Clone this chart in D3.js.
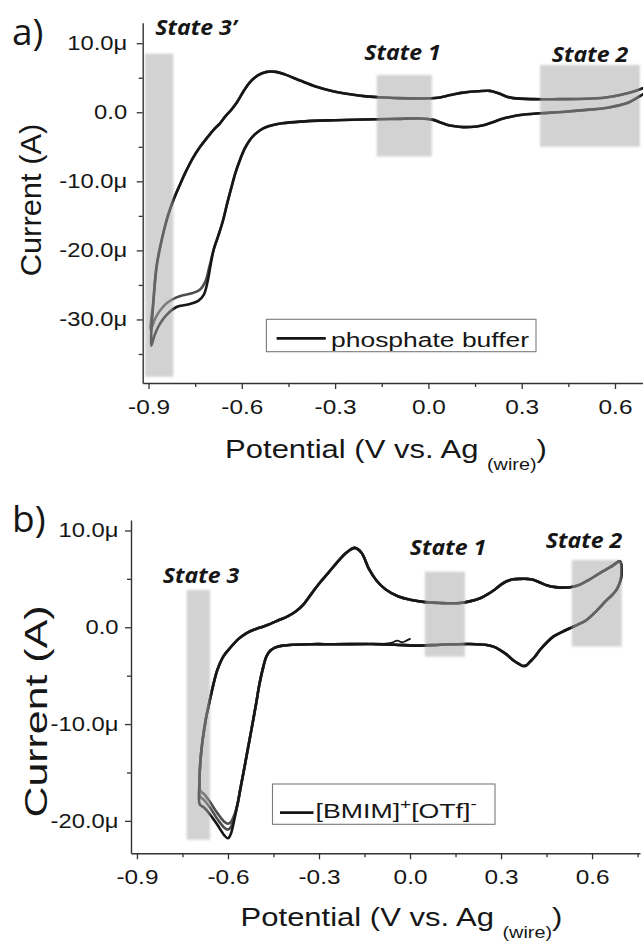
<!DOCTYPE html>
<html>
<head>
<meta charset="utf-8">
<script src="https://cdn.jsdelivr.net/npm/d3@7"></script>
<style>
  body { margin: 0; background: #fff; }
  svg { display: block; }
</style>
</head>
<body>
<svg id="chart" width="643" height="941"></svg>
<script>
// ---------------------------------------------------------------
// Cyclic voltammograms, potential in V vs. Ag wire, current in µA
// ---------------------------------------------------------------

// Axis ticks
const potentialTicks = [-0.9, -0.6, -0.3, 0.0, 0.3, 0.6];
const potentialTickLabels = ["-0.9", "-0.6", "-0.3", "0.0", "0.3", "0.6"];
const potentialMinorTicks = [-0.75, -0.45, -0.15, 0.15, 0.45, 0.75];
const currentTicksA = [10, 0, -10, -20, -30];
const currentTickLabelsA = ["10.0μ", "0.0", "-10.0μ", "-20.0μ", "-30.0μ"];
const currentMinorTicksA = [5, -5, -15, -25, -35];
const currentTicksB = [10, 0, -10, -20];
const currentTickLabelsB = ["10.0μ", "0.0", "-10.0μ", "-20.0μ"];
const currentMinorTicksB = [5, -5, -15];

// (a) phosphate buffer: sweep from the positive vertex down to the negative one
const bufferReduction = [
  [0.705, 3.0], [0.69, 2.6], [0.66, 1.8], [0.637, 1.3], [0.58, 0.7], [0.509, 0.35],
  [0.43, 0.05], [0.359, -0.15], [0.295, -0.4], [0.265, -0.65], [0.241, -0.9],
  [0.209, -1.4], [0.18, -1.85], [0.155, -2.05], [0.112, -2.15], [0.08, -2.0],
  [0.059, -1.8], [0.035, -1.4], [0.016, -1.1], [-0.027, -0.9], [-0.1, -0.95],
  [-0.166, -1.0], [-0.3, -1.15], [-0.413, -1.35], [-0.47, -1.6], [-0.499, -1.85],
  [-0.525, -2.2], [-0.541, -2.6], [-0.558, -3.2], [-0.574, -4.0], [-0.59, -5.2],
  [-0.606, -6.9], [-0.62, -8.7], [-0.633, -10.8], [-0.647, -13.2], [-0.66, -15.6],
  [-0.675, -17.8], [-0.69, -19.8]
];
// (a) the two cycles part near the negative vertex
const bufferVertexCycle1 = [
  [-0.705, -22.5], [-0.718, -24.6], [-0.735, -25.7], [-0.76, -26.2], [-0.79, -26.5],
  [-0.81, -26.8], [-0.841, -27.6], [-0.863, -28.7], [-0.878, -29.8], [-0.893, -31.5]
];
const bufferVertexCycle2 = [
  [-0.70, -22.0], [-0.71, -24.5], [-0.722, -26.4], [-0.74, -27.3], [-0.77, -27.8],
  [-0.81, -28.2], [-0.841, -29.3], [-0.863, -30.6], [-0.88, -32.2], [-0.891, -33.8]
];
// (a) return sweep from the negative vertex up to the positive one
const bufferOxidation = [
  [-0.884, -27.2], [-0.874, -22.3], [-0.863, -19.6], [-0.852, -17.4], [-0.837, -14.9],
  [-0.82, -12.7], [-0.80, -10.6], [-0.78, -8.6], [-0.757, -6.6], [-0.734, -5.0],
  [-0.71, -3.6], [-0.69, -2.5], [-0.67, -1.6], [-0.653, -0.6], [-0.635, 0.3],
  [-0.615, 1.5], [-0.595, 3.0], [-0.575, 4.3], [-0.55, 5.3], [-0.52, 5.85],
  [-0.49, 5.85], [-0.46, 5.45], [-0.413, 4.6], [-0.36, 3.7], [-0.307, 3.05],
  [-0.252, 2.6], [-0.2, 2.3], [-0.166, 2.2], [-0.1, 2.05], [-0.027, 2.0],
  [0.03, 2.1], [0.07, 2.5], [0.112, 2.85], [0.16, 3.05], [0.198, 3.1],
  [0.225, 2.75], [0.25, 2.3], [0.273, 2.05], [0.337, 1.9], [0.42, 1.9],
  [0.509, 1.95], [0.57, 2.15], [0.616, 2.5], [0.66, 3.0], [0.69, 3.5], [0.712, 4.1]
];

// (b) [BMIM]+[OTf]-: open-circuit start of the first scan
const ilStart = [[0.0, -1.2], [-0.012, -1.38], [-0.026, -1.55], [-0.042, -1.38], [-0.062, -1.62], [-0.09, -1.72], [-0.135, -1.73]];
// (b) cathodic sweep towards the negative vertex
const ilReduction = [
  [-0.135, -1.73], [-0.25, -1.75], [-0.324, -1.75], [-0.38, -1.8], [-0.42, -1.9],
  [-0.445, -2.1], [-0.46, -2.4], [-0.473, -3.0], [-0.486, -4.4], [-0.497, -6.0],
  [-0.507, -7.85], [-0.517, -9.6], [-0.527, -11.3], [-0.537, -13.0], [-0.547, -14.7],
  [-0.558, -16.5], [-0.568, -18.2]
];
// (b) reduction peak and vertex of the three cycles
const ilTroughCycle1 = [[-0.578, -19.3], [-0.59, -20.1], [-0.60, -20.3], [-0.612, -20.1], [-0.635, -19.2], [-0.66, -18.0], [-0.68, -17.2], [-0.691, -16.9]];
const ilTroughCycle2 = [[-0.579, -19.6], [-0.59, -20.6], [-0.60, -20.9], [-0.612, -20.7], [-0.635, -19.8], [-0.66, -18.6], [-0.68, -17.8], [-0.692, -17.5]];
const ilTroughCycle3 = [[-0.58, -20.0], [-0.59, -21.3], [-0.60, -21.8], [-0.612, -21.5], [-0.635, -20.4], [-0.66, -19.3], [-0.68, -18.6], [-0.693, -18.3]];
// (b) anodic sweep up to the positive vertex
const ilOxidation = [
  [-0.694, -16.0], [-0.69, -13.5], [-0.682, -11.3], [-0.673, -9.5], [-0.662, -7.85],
  [-0.648, -5.9], [-0.635, -4.4], [-0.615, -3.0], [-0.594, -2.17], [-0.565, -1.2],
  [-0.54, -0.62], [-0.51, -0.2], [-0.486, 0.06], [-0.46, 0.35], [-0.432, 0.75],
  [-0.405, 1.1], [-0.378, 1.6], [-0.35, 2.4], [-0.324, 3.5], [-0.3, 4.5],
  [-0.27, 5.6], [-0.243, 6.6], [-0.21, 7.7], [-0.182, 8.2], [-0.16, 7.7],
  [-0.135, 6.0], [-0.11, 4.8], [-0.08, 3.9], [-0.04, 3.2], [0.0, 2.85],
  [0.05, 2.6], [0.1, 2.5], [0.165, 2.5], [0.2, 2.7], [0.231, 3.0], [0.255, 3.4],
  [0.275, 3.8], [0.3, 4.4], [0.319, 4.75], [0.34, 4.95], [0.363, 5.0], [0.385, 5.0],
  [0.406, 4.9], [0.43, 4.6], [0.45, 4.35], [0.48, 4.15], [0.516, 4.1], [0.54, 4.2],
  [0.56, 4.4], [0.59, 4.9], [0.626, 5.6], [0.66, 6.2], [0.692, 6.8]
];
// (b) cathodic sweep back from the positive vertex
const ilReturn = [
  [0.697, 6.2], [0.695, 5.0], [0.683, 4.0], [0.665, 3.3], [0.648, 2.8], [0.615, 1.7],
  [0.582, 0.75], [0.555, 0.3], [0.527, -0.1], [0.5, -0.5], [0.472, -0.97], [0.45, -1.6],
  [0.428, -2.35], [0.41, -3.1], [0.396, -3.55], [0.383, -3.95], [0.372, -4.0],
  [0.36, -3.8], [0.34, -3.4], [0.318, -2.8], [0.297, -2.35], [0.275, -2.0],
  [0.253, -1.83], [0.198, -1.73], [0.1, -1.8], [0.033, -1.9], [-0.05, -1.8], [-0.13, -1.73]
];

// Highlighted potential windows (V) and their current span (µA)
const stateNamesA = ["State 3’", "State 1", "State 2"];
const stateFromA = [-0.911, -0.166, 0.359];
const stateToA = [-0.82, 0.011, 0.68];
const stateHighA = [8.5, 5.4, 6.85];
const stateLowA = [-38.3, -6.4, -5.0];

const stateNamesB = ["State 3", "State 1", "State 2"];
const stateFromB = [-0.736, 0.049, 0.533];
const stateToB = [-0.659, 0.181, 0.698];
const stateHighB = [3.85, 5.74, 6.95];
const stateLowB = [-21.95, -3.04, -2.0];

// ---------------------------------------------------------------
const svg = d3.select("#chart");
const SANS = '"Liberation Sans", Arial, sans-serif';
const LABEL = '"Open Sans", "Noto Sans", sans-serif';
const INK = "#161616";
const AXIS = "#333";

const defs = svg.append("defs");
defs.append("filter").attr("id", "soft").attr("x", "-20%").attr("y", "-20%").attr("width", "140%").attr("height", "140%")
  .append("feGaussianBlur").attr("stdDeviation", 1.1);

// horizontal text, stretched sideways like the rest of the figure
function wideText(g, str, x, y, size, sx, anchor, opts = {}) {
  return g.append("text")
    .attr("transform", `translate(${x},${y}) scale(${sx},1)`)
    .attr("text-anchor", anchor)
    .attr("font-family", opts.family || SANS)
    .attr("font-size", size)
    .attr("font-weight", opts.weight || 400)
    .attr("font-style", opts.style || "normal")
    .attr("fill", INK)
    .text(str);
}

function drawPanel(cfg) {
  const g = svg.append("g");
  const x = d3.scaleLinear().domain(cfg.xDomain).range(cfg.xRange);
  const y = d3.scaleLinear().domain(cfg.yDomain).range(cfg.yRange);
  const left = cfg.xRange[0], bottom = cfg.yRange[0];

  // voltammogram cycles
  const line = d3.line().x(d => x(d[0])).y(d => y(d[1])).curve(d3.curveCatmullRom.alpha(0.5));
  cfg.cycles.forEach((c, i) => {
    g.append("path").datum(c)
      .attr("d", line)
      .attr("fill", "none")
      .attr("stroke", cfg.cycleColors[i])
      .attr("stroke-width", cfg.cycleWidths ? cfg.cycleWidths[i] : 2.6)
      .attr("stroke-linejoin", "round")
      .attr("stroke-linecap", "round");
  });

  // translucent windows drawn over the curves
  cfg.states.from.forEach((v0, i) => {
    g.append("rect")
      .attr("x", x(v0)).attr("width", x(cfg.states.to[i]) - x(v0))
      .attr("y", y(cfg.states.high[i])).attr("height", y(cfg.states.low[i]) - y(cfg.states.high[i]))
      .attr("fill", "#a9a9a9").attr("fill-opacity", 0.52)
      .attr("filter", "url(#soft)");
  });
  cfg.states.names.forEach((n, i) => {
    const p = cfg.stateLabelAt[i];
    wideText(g, n, p[0], p[1], 22, 1.05, "middle", { family: LABEL, weight: 700, style: "italic" });
  });

  // axes
  const styleAxis = a => {
    a.selectAll("path.domain").attr("stroke", AXIS).attr("stroke-width", 1.4);
    a.selectAll(".tick line").attr("stroke", AXIS).attr("stroke-width", 1.3);
    a.selectAll("text").attr("font-family", SANS).attr("font-size", 19.5).attr("fill", INK);
  };
  const yLabelFor = new Map(cfg.yTicks.map((t, i) => [t, cfg.yTickLabels[i]]));
  const xLabelFor = new Map(potentialTicks.map((t, i) => [t, potentialTickLabels[i]]));

  const yAxis = g.append("g").attr("transform", `translate(${left},0)`)
    .call(d3.axisLeft(y).tickValues(cfg.yTicks).tickFormat(t => yLabelFor.get(t))
      .tickSize(6).tickSizeOuter(0).tickPadding(cfg.yPad));
  styleAxis(yAxis);
  yAxis.selectAll("text")
    .style("transform-box", "fill-box").style("transform-origin", "right center")
    .style("transform", "scaleX(1.22)");
  const yMinor = g.append("g").attr("transform", `translate(${left},0)`)
    .call(d3.axisLeft(y).tickValues(cfg.yMinor).tickFormat("").tickSize(4).tickSizeOuter(0));
  yMinor.select("path.domain").remove();
  styleAxis(yMinor);

  const xAxis = g.append("g").attr("transform", `translate(0,${bottom})`)
    .call(d3.axisBottom(x).tickValues(potentialTicks).tickFormat(t => xLabelFor.get(t))
      .tickSize(6).tickSizeOuter(0).tickPadding(11));
  styleAxis(xAxis);
  xAxis.selectAll("text")
    .style("transform-box", "fill-box").style("transform-origin", "center")
    .style("transform", "scaleX(1.25)");
  const xMinor = g.append("g").attr("transform", `translate(0,${bottom})`)
    .call(d3.axisBottom(x).tickValues(potentialMinorTicks.filter(v => v <= cfg.xDomain[1])).tickFormat("").tickSize(4).tickSizeOuter(0));
  xMinor.select("path.domain").remove();
  styleAxis(xMinor);

  // axis titles
  const xt = wideText(g, "Potential (V vs. Ag ", cfg.xTitle[0], cfg.xTitle[1], 25, 1.24, "middle");
  xt.append("tspan").attr("font-size", 16).attr("dy", 12).text("(wire)");
  xt.append("tspan").attr("dy", -12).text(")");

  const yt = cfg.yTitle;
  g.append("text")
    .attr("transform", `translate(${yt[0]},${yt[1]}) rotate(-90) scale(${yt[3]},1)`)
    .attr("text-anchor", "middle")
    .attr("font-family", SANS).attr("font-size", yt[2]).attr("fill", INK)
    .text("Current (A)");

  // panel letter
  g.append("text").attr("x", cfg.letterAt[0]).attr("y", cfg.letterAt[1])
    .attr("font-family", '"Open Sans", sans-serif').attr("font-size", 37).attr("fill", INK)
    .text(cfg.letter);

  // legend
  const L = cfg.legend;
  g.append("rect").attr("x", L.box[0]).attr("y", L.box[1]).attr("width", L.box[2]).attr("height", L.box[3])
    .attr("fill", "#fff").attr("stroke", "#7a7a7a").attr("stroke-width", 1.1);
  g.append("line").attr("x1", L.line[0]).attr("x2", L.line[1]).attr("y1", L.line[2]).attr("y2", L.line[2])
    .attr("stroke", INK).attr("stroke-width", 2.8);
  const lt = wideText(g, "", L.text[0], L.text[1], 21, L.text[2], "start");
  L.parts.forEach(p => {
    lt.append("tspan").attr("dy", p.dy || 0).attr("font-size", p.size || 21).text(p.t);
  });
}

// Panel (a) – phosphate buffer, two cycles
drawPanel({
  letter: "a)", letterAt: [12, 45],
  xDomain: [-0.9187, 0.7447], xRange: [142.7, 660],
  yDomain: [-39.2, 12.97], yRange: [383, 22.7],
  yTicks: currentTicksA, yTickLabels: currentTickLabelsA, yMinor: currentMinorTicksA, yPad: 9.5,
  cycles: [
    bufferReduction.concat(bufferVertexCycle1, bufferOxidation),
    bufferReduction.concat(bufferVertexCycle2, bufferOxidation)
  ],
  cycleColors: ["#4d4d4d", INK],
  states: { names: stateNamesA, from: stateFromA, to: stateToA, high: stateHighA, low: stateLowA },
  stateLabelAt: [[196, 35], [402.5, 60], [590, 61.7]],
  xTitle: [386, 458], yTitle: [41, 200, 30, 1.03],
  legend: {
    box: [266.4, 319.3, 269.6, 32.4], line: [276.6, 325.8, 338.3], text: [331, 346.7, 1.26],
    parts: [{ t: "phosphate buffer" }]
  }
});

// Panel (b) – [BMIM]+[OTf]-, three cycles
drawPanel({
  letter: "b)", letterAt: [12, 531.7],
  xDomain: [-0.9196, 0.758], xRange: [131, 640],
  yDomain: [-23.35, 11.08], yRange: [853.3, 520],
  yTicks: currentTicksB, yTickLabels: currentTickLabelsB, yMinor: currentMinorTicksB, yPad: 6.5,
  cycles: [
    ilReduction.concat(ilTroughCycle1, ilOxidation, ilReturn),
    ilReduction.concat(ilTroughCycle2, ilOxidation, ilReturn),
    ilReduction.concat(ilTroughCycle3, ilOxidation, ilReturn),
    ilStart
  ],
  cycleColors: ["#4d4d4d", "#4d4d4d", INK, INK],
  cycleWidths: [2.6, 2.6, 2.6, 1.8],
  states: { names: stateNamesB, from: stateFromB, to: stateToB, high: stateHighB, low: stateLowB },
  stateLabelAt: [[201, 583], [448, 555], [584, 548.3]],
  xTitle: [401.5, 926], yTitle: [46.5, 711.5, 32, 1.34],
  legend: {
    box: [272.5, 784, 222.5, 40.3], line: [280, 313.5, 812.7], text: [315.6, 818, 1.27],
    parts: [{ t: "[BMIM]" }, { t: "+", dy: -9, size: 15 }, { t: "[OTf]", dy: 9 }, { t: "-", dy: -9, size: 15 }]
  }
});
</script>
</body>
</html>
